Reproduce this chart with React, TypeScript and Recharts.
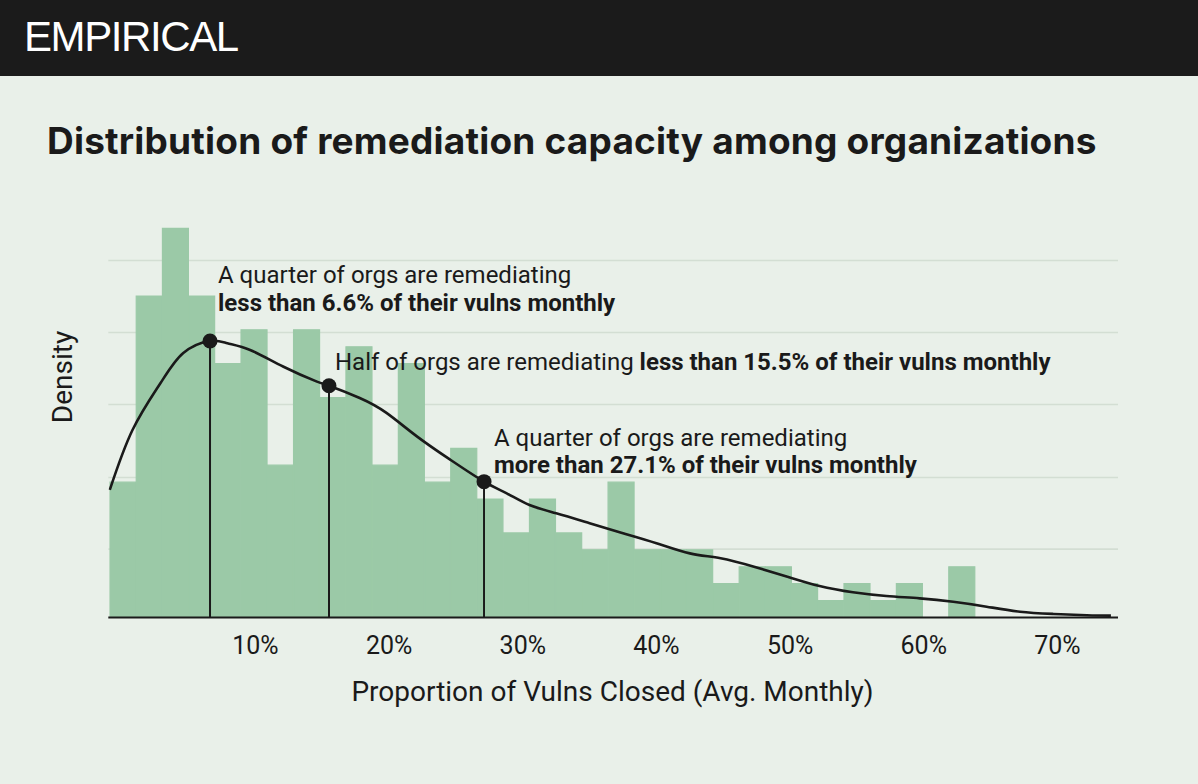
import React from 'react';
import {
  ComposedChart,
  Bar,
  Line,
  XAxis,
  YAxis,
  CartesianGrid,
  ReferenceLine,
  ReferenceDot,
} from 'recharts';

// histogram bins (centre of each bin, % of vulns closed) and org counts
const binCenters = [
  0.1, 2.06, 4.02, 5.98, 7.94, 9.9, 11.87, 13.83, 15.79, 17.75, 19.71, 21.67,
  23.63, 25.59, 27.55, 29.51, 31.48, 33.44, 35.4, 37.36, 39.32, 41.28, 43.24,
  45.21, 47.17, 49.13, 51.09, 53.05, 55.01, 56.97, 58.93, 60.89, 62.85,
];
const binCounts = [
  8, 19, 23, 19, 15, 17, 9, 17, 13, 16, 9, 15, 8, 10, 7, 5, 7, 5, 4, 8, 4, 4,
  4, 2, 3, 3, 2, 1, 2, 1, 2, 0, 3,
];

// density curve
const kdeX = [
  -0.9, 0.8, 2.9, 4.6, 6.6, 7.9, 9.6, 12.1, 14.6, 15.5, 17.8, 19.8, 22.1, 24.6,
  27.1, 28.8, 30.5, 32.5, 35.0, 37.5, 40.0, 42.5, 44.8, 47.3, 49.8, 52.2, 54.7,
  57.2, 59.7, 62.2, 64.7, 67.2, 69.7, 72.2, 74.0,
];
const kdeY = [
  7.54, 11.08, 13.86, 15.63, 16.34, 16.21, 15.81, 14.82, 13.94, 13.7, 12.97,
  12.09, 10.69, 9.31, 8.03, 7.34, 6.65, 6.16, 5.57, 4.98, 4.39, 3.79, 3.5, 3.0,
  2.41, 1.86, 1.49, 1.27, 1.13, 0.93, 0.64, 0.34, 0.21, 0.13, 0.11,
];

const xTicks = [10, 20, 30, 40, 50, 60, 70];
const gridLevels = [4.04, 8.27, 12.59, 16.84, 21.1];
const quartiles = [6.6, 15.5, 27.1];
const quartileDensity = [16.34, 13.7, 8.03];

const histData = binCenters.map((x, i) => ({ x, count: binCounts[i] }));
const kdeData = kdeX.map((x, i) => ({ x, density: kdeY[i] }));

const X_DOMAIN: [number, number] = [-1.01, 74.53];
const INK = '#1a1a1a';
const BG = '#e9f0e9';
const BAR = '#9bc9a7';

export default function App() {
  return (
    <div
      style={{
        position: 'absolute',
        left: 0,
        top: 0,
        width: 1198,
        height: 784,
        background: BG,
        fontFamily: 'Roboto, sans-serif',
        color: INK,
        overflow: 'hidden',
      }}
    >
      <div
        style={{
          position: 'absolute',
          left: 0,
          top: 0,
          width: 1198,
          height: 76,
          background: '#1b1b1b',
        }}
      >
        <div
          style={{
            position: 'absolute',
            left: 24,
            top: 13,
            fontFamily: '"Liberation Sans", sans-serif',
            fontSize: 42,
            letterSpacing: -1.4,
            color: '#ffffff',
            lineHeight: '48px',
          }}
        >
          EMPIRICAL
        </div>
      </div>

      <div
        style={{
          position: 'absolute',
          left: 47,
          top: 116,
          fontFamily: 'Inter, sans-serif',
          fontWeight: 700,
          fontSize: 37,
          letterSpacing: 0.2,
          lineHeight: '50px',
          whiteSpace: 'nowrap',
        }}
      >
        Distribution of remediation capacity among organizations
      </div>

      <ComposedChart
        width={1198}
        height={784}
        data={histData}
        barCategoryGap={0}
        barGap={0}
        margin={{ top: 211.4, right: 80, bottom: 136.5, left: 108.3 }}
        style={{ position: 'absolute', left: 0, top: 0 }}
      >
        <CartesianGrid
          vertical={false}
          syncWithTicks
          stroke="#d3ded3"
          strokeWidth={1.6}
        />
        <XAxis
          xAxisId="bins"
          dataKey="x"
          type="number"
          domain={X_DOMAIN}
          allowDataOverflow
          ticks={xTicks}
          interval={0}
          tickFormatter={(v) => `${v}%`}
          tickLine={false}
          axisLine={{ stroke: INK, strokeWidth: 2.2 }}
          tick={{ fill: INK, fontSize: 25, fontFamily: 'Roboto' }}
          tickMargin={13}
          height={30}
        />
        <XAxis
          xAxisId="kde"
          dataKey="x"
          type="number"
          domain={X_DOMAIN}
          allowDataOverflow
          hide
        />
        <YAxis
          type="number"
          domain={[0, 24]}
          ticks={gridLevels}
          interval={0}
          hide
          width={0}
        />
        <Bar
          xAxisId="bins"
          dataKey="count"
          fill={BAR}
          stroke={BAR}
          strokeWidth={1.2}
          isAnimationActive={false}
        />
        <Line
          xAxisId="kde"
          data={kdeData}
          dataKey="density"
          type="natural"
          stroke={INK}
          strokeWidth={2.6}
          dot={false}
          activeDot={false}
          isAnimationActive={false}
        />
        {quartiles.map((q, i) => (
          <ReferenceLine
            key={`l${q}`}
            xAxisId="kde"
            segment={[
              { x: q, y: 0 },
              { x: q, y: quartileDensity[i] },
            ]}
            stroke={INK}
            strokeWidth={2}
          />
        ))}
        {quartiles.map((q, i) => (
          <ReferenceDot
            key={`d${q}`}
            xAxisId="kde"
            x={q}
            y={quartileDensity[i]}
            r={7.5}
            fill={INK}
            stroke="none"
          />
        ))}
      </ComposedChart>

      <div
        style={{
          position: 'absolute',
          left: 218,
          top: 261.1,
          fontSize: 24,
          lineHeight: '28px',
          whiteSpace: 'nowrap',
        }}
      >
        A quarter of orgs are remediating
        <br />
        <b>less than 6.6% of their vulns monthly</b>
      </div>
      <div
        style={{
          position: 'absolute',
          left: 335,
          top: 348.3,
          fontSize: 24,
          lineHeight: '28px',
          whiteSpace: 'nowrap',
        }}
      >
        Half of orgs are remediating <b>less than 15.5% of their vulns monthly</b>
      </div>
      <div
        style={{
          position: 'absolute',
          left: 494,
          top: 425,
          fontSize: 24,
          lineHeight: '27px',
          whiteSpace: 'nowrap',
        }}
      >
        A quarter of orgs are remediating
        <br />
        <b>more than 27.1% of their vulns monthly</b>
      </div>

      <div
        style={{
          position: 'absolute',
          left: 63,
          top: 377,
          transform: 'translate(-50%, -50%) rotate(-90deg)',
          fontSize: 28,
          lineHeight: '32px',
          whiteSpace: 'nowrap',
        }}
      >
        Density
      </div>
      <div
        style={{
          position: 'absolute',
          left: 0,
          width: 1225,
          top: 676,
          textAlign: 'center',
          fontSize: 28,
          lineHeight: '32px',
          whiteSpace: 'nowrap',
        }}
      >
        Proportion of Vulns Closed (Avg. Monthly)
      </div>
    </div>
  );
}
